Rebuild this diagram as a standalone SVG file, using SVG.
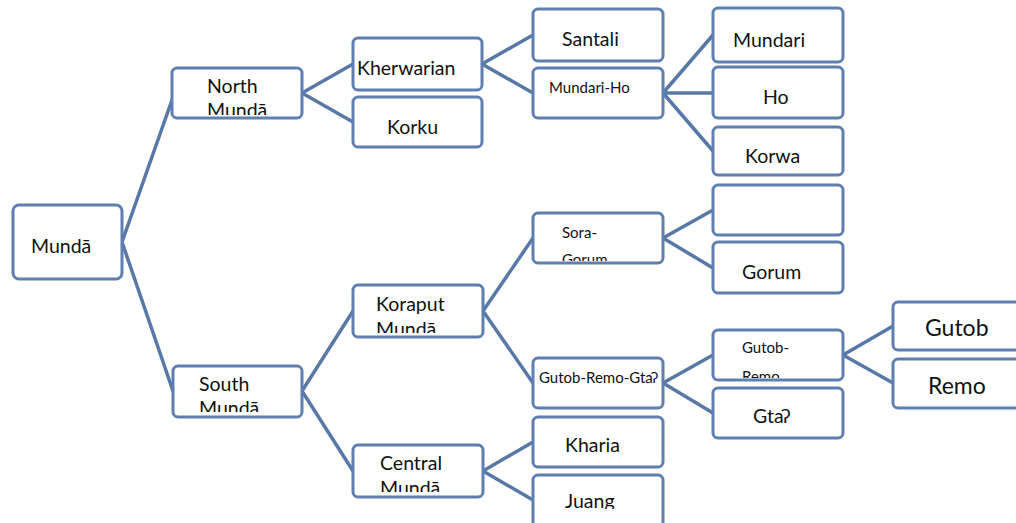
<svg xmlns="http://www.w3.org/2000/svg" width="1016" height="523" viewBox="0 0 1016 523">
<style>
.box{fill:#ffffff;stroke:#5f7fb2;stroke-width:3;}
.ln{stroke:#5878a8;stroke-width:3.5;fill:none;stroke-linecap:round;}
text{font-family:Lato,"Liberation Sans",sans-serif;fill:#111111;font-size:19.5px;}
.s{font-size:15px;}
.l{font-size:23px;}
</style>
<defs>
<clipPath id="cN"><rect x="173" y="69" width="128" height="46"/></clipPath>
<clipPath id="cS"><rect x="174" y="367" width="127" height="45"/></clipPath>
<clipPath id="cK"><rect x="354" y="286" width="128" height="47"/></clipPath>
<clipPath id="cC"><rect x="354" y="446" width="128" height="46"/></clipPath>
<clipPath id="cSG"><rect x="534" y="214" width="128" height="47"/></clipPath>
<clipPath id="cGR"><rect x="714" y="331" width="128" height="47"/></clipPath>
<clipPath id="cJ"><rect x="534" y="476" width="128" height="33"/></clipPath>
</defs>
<g id="connectors">
<path class="ln" d="M122 242 L172 100 M122 242 L173 391"/>
<path class="ln" d="M302 93 L353 64 M302 93 L353 122"/>
<path class="ln" d="M482 64 L533 35 M482 64 L533 93"/>
<path class="ln" d="M663 93 L713 35 M663 93 L713 93 M663 93 L713 151"/>
<path class="ln" d="M302 391 L353 311 M302 391 L353 471"/>
<path class="ln" d="M483 311 L533 238 M483 311 L533 383"/>
<path class="ln" d="M663 238 L713 210 M663 238 L713 268"/>
<path class="ln" d="M663 383 L713 355 M663 383 L713 413"/>
<path class="ln" d="M843 355 L893 326 M843 355 L893 383"/>
<path class="ln" d="M483 471 L533 442 M483 471 L533 500"/>
</g>
<g id="munda"><rect class="box" x="13" y="205" width="109" height="74" rx="6"/><text x="31" y="253">Mundā</text></g>
<g id="north-munda"><rect class="box" x="172" y="68" width="130" height="50" rx="5"/><g clip-path="url(#cN)"><text x="207" y="93">North</text><text x="207" y="117">Mundā</text></g></g>
<g id="kherwarian"><rect class="box" x="353" y="38" width="129" height="52" rx="5"/><text x="357" y="75">Kherwarian</text></g>
<g id="korku"><rect class="box" x="353" y="97" width="129" height="50" rx="5"/><text x="387" y="134">Korku</text></g>
<g id="santali"><rect class="box" x="533" y="9" width="130" height="52" rx="5"/><text x="562" y="46">Santali</text></g>
<g id="mundari-ho"><rect class="box" x="533" y="68" width="130" height="50" rx="5"/><text class="s" x="549" y="93">Mundari-Ho</text></g>
<g id="mundari"><rect class="box" x="713" y="8" width="130" height="54" rx="5"/><text x="733" y="47">Mundari</text></g>
<g id="ho"><rect class="box" x="713" y="67" width="130" height="51" rx="5"/><text x="763" y="104">Ho</text></g>
<g id="korwa"><rect class="box" x="713" y="127" width="130" height="48" rx="5"/><text x="745" y="163">Korwa</text></g>
<g id="empty"><rect class="box" x="713" y="185" width="130" height="50" rx="5"/></g>
<g id="gorum"><rect class="box" x="713" y="242" width="130" height="51" rx="5"/><text x="742" y="279">Gorum</text></g>
<g id="sora-gorum"><rect class="box" x="533" y="213" width="130" height="50" rx="5"/><g clip-path="url(#cSG)"><text class="s" x="562" y="238">Sora-</text><text class="s" x="562" y="265">Gorum</text></g></g>
<g id="south-munda"><rect class="box" x="173" y="366" width="129" height="51" rx="5"/><g clip-path="url(#cS)"><text x="199" y="391">South</text><text x="199" y="415">Mundā</text></g></g>
<g id="koraput-munda"><rect class="box" x="353" y="285" width="130" height="52" rx="5"/><g clip-path="url(#cK)"><text x="376" y="311">Koraput</text><text x="376" y="336">Mundā</text></g></g>
<g id="gutob-remo-gta"><rect class="box" x="533" y="358" width="130" height="50" rx="5"/><text class="s" x="539" y="383">Gutob-Remo-Gtaʔ</text></g>
<g id="gutob-remo"><rect class="box" x="713" y="330" width="130" height="50" rx="5"/><g clip-path="url(#cGR)"><text class="s" x="742" y="353">Gutob-</text><text class="s" x="742" y="382">Remo</text></g></g>
<g id="gta"><rect class="box" x="713" y="388" width="130" height="50" rx="5"/><text x="753" y="423">Gtaʔ</text></g>
<g id="gutob"><rect class="box" x="893" y="302" width="130" height="48" rx="5"/><text class="l" x="925" y="336">Gutob</text></g>
<g id="remo"><rect class="box" x="893" y="359" width="130" height="49" rx="5"/><text class="l" x="928" y="394">Remo</text></g>
<g id="central-munda"><rect class="box" x="353" y="445" width="130" height="52" rx="5"/><g clip-path="url(#cC)"><text x="380" y="470">Central</text><text x="380" y="495">Mundā</text></g></g>
<g id="kharia"><rect class="box" x="533" y="417" width="130" height="50" rx="5"/><text x="565" y="452">Kharia</text></g>
<g id="juang"><rect class="box" x="533" y="475" width="130" height="52" rx="5"/><g clip-path="url(#cJ)"><text x="565" y="508">Juang</text></g></g>
</svg>
